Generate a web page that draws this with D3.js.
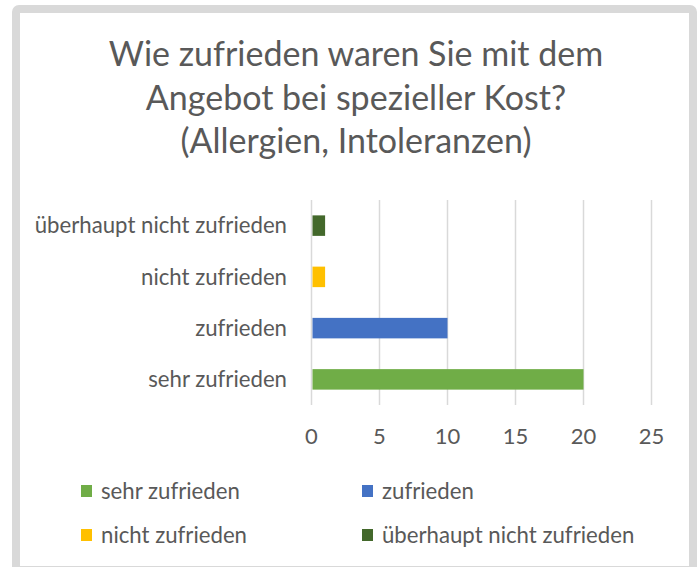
<!DOCTYPE html>
<html>
<head>
<meta charset="utf-8">
<script src="https://cdn.jsdelivr.net/npm/d3@7"></script>
<style>
  body { margin: 0; background: #fff; }
  text { font-family: Lato, "Open Sans", sans-serif; fill: #595959; }
</style>
</head>
<body>
<div class="chart"></div>
<script>
const titleLines = ["Wie zufrieden waren Sie mit dem", "Angebot bei spezieller Kost?", "(Allergien, Intoleranzen)"];
const categories = ["überhaupt nicht zufrieden", "nicht zufrieden", "zufrieden", "sehr zufrieden"];
const values = [1, 1, 10, 20];
const colors = ["#43682b", "#ffc000", "#4472c4", "#70ad47"];
const xTicks = [0, 5, 10, 15, 20, 25];
const legendOrder = ["sehr zufrieden", "zufrieden", "nicht zufrieden", "überhaupt nicht zufrieden"];

const width = 698;
const height = 567;

const svg = d3.select(".chart")
    .append("svg")
    .attr("width", width)
    .attr("height", height);

svg.append("rect")
    .attr("width", width)
    .attr("height", height)
    .attr("fill", "#fff");

// grey frame round the chart area
svg.append("rect")
    .attr("x", 16)
    .attr("y", 9)
    .attr("width", 677)
    .attr("height", 561)
    .attr("rx", 3)
    .attr("fill", "none")
    .attr("stroke", "#d9d9d9")
    .attr("stroke-width", 8);

const colScale = d3.scaleOrdinal().domain(categories).range(colors);

// title
svg.selectAll(".title")
    .data(titleLines)
    .enter()
    .append("text")
    .attr("class", "title")
    .attr("x", 356)
    .attr("y", (d, i) => 66 + i * 43.5)
    .attr("text-anchor", "middle")
    .style("font-size", "34px")
    .text(d => d);

const x = d3.scaleLinear().domain([0, 25]).range([311.5, 651.5]);
const y = d3.scaleBand().domain(categories).range([200, 405]).paddingInner(0.6).paddingOuter(0.3);

// gridlines
svg.append("g")
    .selectAll("line")
    .data(xTicks)
    .enter()
    .append("line")
    .attr("x1", d => x(d))
    .attr("x2", d => x(d))
    .attr("y1", 200)
    .attr("y2", 405)
    .attr("stroke", "#d9d9d9")
    .attr("stroke-width", 1.5);

// x tick labels
svg.append("g")
    .selectAll("text")
    .data(xTicks)
    .enter()
    .append("text")
    .attr("x", d => x(d))
    .attr("y", 444)
    .attr("text-anchor", "middle")
    .style("font-size", "22px")
    .text(d => d);

// category labels
svg.append("g")
    .selectAll("text")
    .data(categories)
    .enter()
    .append("text")
    .attr("x", 287)
    .attr("y", d => y(d) + y.bandwidth() / 2)
    .attr("dy", "0.35em")
    .attr("text-anchor", "end")
    .style("font-size", "22.2px")
    .text(d => d);

// bars
svg.append("g")
    .selectAll("rect")
    .data(categories)
    .enter()
    .append("rect")
    .attr("x", x(0) + 1)
    .attr("y", d => y(d))
    .attr("width", (d, i) => x(values[i]) - x(0) - 1)
    .attr("height", y.bandwidth())
    .attr("fill", d => colScale(d));

// legend, two columns
const legend = svg.append("g")
    .selectAll("g")
    .data(legendOrder)
    .enter()
    .append("g")
    .attr("transform", (d, i) => "translate(" + [81 + (i % 2) * 281, 491 + Math.floor(i / 2) * 44] + ")");

legend.append("rect")
    .attr("x", 0)
    .attr("y", -6)
    .attr("width", 11)
    .attr("height", 12)
    .attr("fill", d => colScale(d));

legend.append("text")
    .attr("x", 20)
    .attr("dy", "0.35em")
    .style("font-size", "22.2px")
    .text(d => d);
</script>
</body>
</html>
